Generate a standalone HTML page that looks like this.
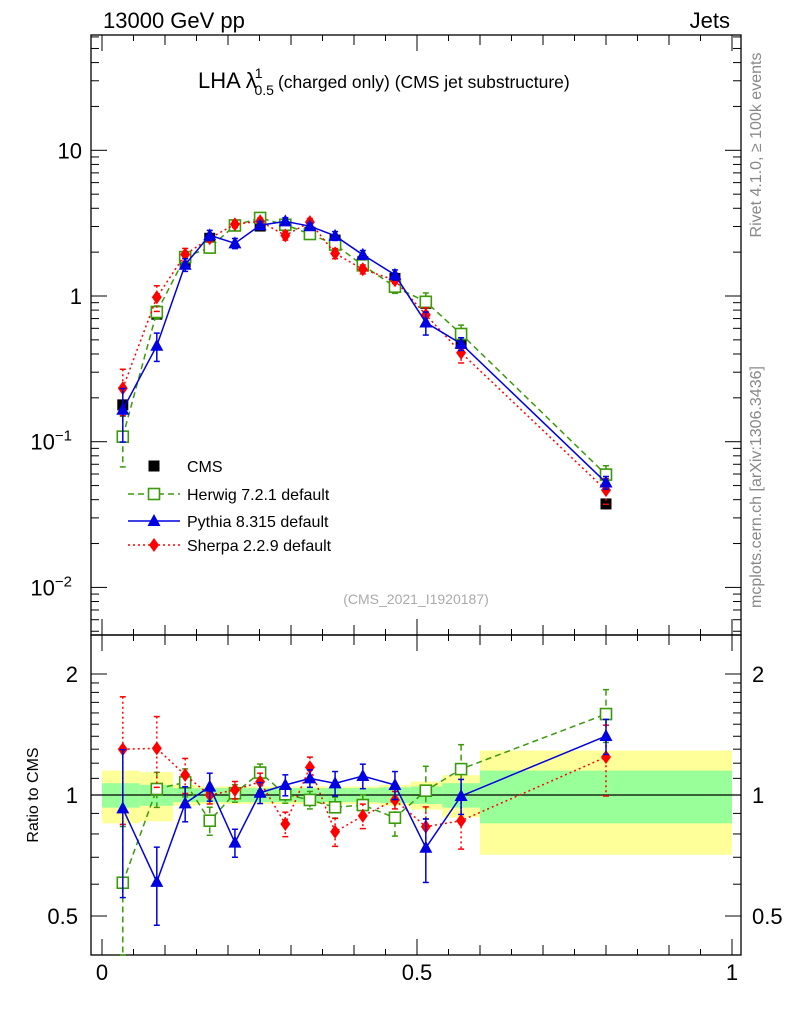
<!DOCTYPE html>
<html><head><meta charset="utf-8"><style>
body{margin:0;background:#fff;}
svg{display:block;font-family:"Liberation Sans",sans-serif;}
</style></head><body>
<svg id="chart" width="786" height="1024" viewBox="0 0 786 1024"></svg>
<script>
const xs = [0.033,0.087,0.132,0.171,0.211,0.251,0.291,0.330,0.370,0.414,0.465,0.514,0.570,0.800];
const binEdges = [0,0.06,0.113,0.15,0.19,0.23,0.27,0.31,0.35,0.39,0.44,0.49,0.54,0.6,1.0];
const cmsVals = [0.179,0.75,1.72,2.49,3.02,3.02,3.07,2.74,2.42,1.72,1.32,0.89,0.473,0.0374];
const bandInner = [0.07,0.06,0.04,0.04,0.04,0.04,0.04,0.04,0.04,0.04,0.045,0.05,0.07,0.15];
const bandOuter = [0.15,0.14,0.06,0.05,0.05,0.05,0.05,0.05,0.05,0.05,0.06,0.08,0.12,0.29];
const herwigRatio = [0.605,1.035,1.075,0.863,1.01,1.137,1.004,0.972,0.932,0.944,0.878,1.025,1.16,1.59];
const pythiaRatio = [0.926,0.608,0.953,1.049,0.761,1.013,1.059,1.10,1.069,1.115,1.059,0.739,0.994,1.402];
const sherpaRatio = [1.30,1.306,1.121,1.0,1.029,1.079,0.847,1.172,0.81,0.887,0.972,0.834,0.863,1.243];
const herwigErr = [0.38,0.1,0.08,0.08,0.05,0.05,0.05,0.05,0.06,0.06,0.1,0.15,0.15,0.15];
const pythiaErr = [0.4,0.22,0.1,0.08,0.08,0.06,0.06,0.05,0.07,0.07,0.08,0.18,0.1,0.1];
const sherpaErr = [0.35,0.2,0.1,0.05,0.05,0.05,0.07,0.06,0.08,0.07,0.05,0.12,0.15,0.2];
const yTickLabels = ["10^-2","10^-1","1","10"];
const ratioTickLabels = ["0.5","1","2"];
const xTickLabels = ["0","0.5","1"];

const S = document.getElementById('chart');
const NS = 'http://www.w3.org/2000/svg';
function mk(tag, attrs, parent){const e=document.createElementNS(NS,tag);for(const k in attrs)e.setAttribute(k,attrs[k]);(parent||S).appendChild(e);return e;}
const X = v => 102 + 630*v;
const Ym = v => 296 - 145.7*Math.log10(v);
const Yr = v => 795 - 402*Math.log10(v);
const L=91,R=741,T=35,M=635,B=955;

const gBand = mk('g',{});


for(let i=0;i<binEdges.length-1;i++){
  const x0=X(binEdges[i]),x1=X(binEdges[i+1]);
  const o=mk('rect',{x:x0,y:Yr(1+bandOuter[i]),width:x1-x0,height:Yr(1-bandOuter[i])-Yr(1+bandOuter[i]),fill:'#ffff99'},gBand);
  
  const n=mk('rect',{x:x0,y:Yr(1+bandInner[i]),width:x1-x0,height:Yr(1-bandInner[i])-Yr(1+bandInner[i]),fill:'#99ff99'},gBand);
  
}
mk('line',{x1:L,x2:R,y1:Yr(1),y2:Yr(1),stroke:'#000','stroke-width':1.2});

const f1=mk('rect',{x:L,y:T,width:R-L,height:M-T,fill:'none',stroke:'#000','stroke-width':1.3});

const f2=mk('rect',{x:L,y:M,width:R-L,height:B-M,fill:'none',stroke:'#000','stroke-width':1.3});


for(let d=-3;d<=1;d++){
  for(let m=1;m<=9;m++){
    const v=m*Math.pow(10,d);const y=Ym(v);
    if(y<T||y>M)continue;
    const len=m===1?16:8;
    mk('line',{x1:L,x2:L+len,y1:y,y2:y,stroke:'#000'});
    mk('line',{x1:R,x2:R-len,y1:y,y2:y,stroke:'#000'});
  }
}
const yl=[[0.01,'10','−2'],[0.1,'10','−1'],[1,'1',''],[10,'10','']];
yl.forEach(([v,b,e])=>{
  const t=mk('text',{x:e?72:82,y:Ym(v)+8,'text-anchor':'end','font-size':22});
  t.textContent=b;
  if(e){const s=mk('tspan',{dy:-9,'font-size':15},t);s.textContent=e;}
  
});
[0.4,0.5,0.6,0.7,0.8,0.9,1,1.1,1.2,1.3,1.4,1.5,1.6,1.7,1.8,1.9,2,2.5].forEach(v=>{
  const y=Yr(v);if(y<M||y>B)return;
  const len=(v===0.5||v===1||v===2)?16:8;
  mk('line',{x1:L,x2:L+len,y1:y,y2:y,stroke:'#000'});
  mk('line',{x1:R,x2:R-len,y1:y,y2:y,stroke:'#000'});
});
ratioTickLabels.forEach(s=>{
  const v=parseFloat(s);
  const a=mk('text',{x:78,y:Yr(v)+8,'text-anchor':'end','font-size':22});a.textContent=s;
  
  const b=mk('text',{x:752,y:Yr(v)+8,'text-anchor':'start','font-size':22});b.textContent=s;
  
});
for(let i=0;i<=20;i++){
  const v=i*0.05,x=X(v);const len=i%10===0?16:(i%2===0?10:6);
  [[T,1],[M,-1],[M,1],[B,-1]].forEach(([y,d])=>mk('line',{x1:x,x2:x,y1:y,y2:y+d*len,stroke:'#000'}));
}
xTickLabels.forEach(s=>{const t=mk('text',{x:X(parseFloat(s)),y:980,'text-anchor':'middle','font-size':22});t.textContent=s;
  });

function marker(type,x,y,c,g){
  let e;
  if(type==='sq') e=mk('rect',{x:x-5.5,y:y-5.5,width:11,height:11,fill:'#000'},g);
  if(type==='osq') e=mk('rect',{x:x-5.5,y:y-5.5,width:11,height:11,fill:'#fff',stroke:c,'stroke-width':1.6},g);
  if(type==='tri') e=mk('polygon',{points:`${x},${y-7} ${x-6.5,x-6.5},${y+5} ${x+6.5},${y+5}`.replace(/^(\S+) (\S+),(\S+),/,'$1 $2,'),fill:c},g);
  if(type==='dia') e=mk('polygon',{points:`${x},${y-7} ${x-5},${y} ${x},${y+7} ${x+5},${y}`,fill:c},g);
  
}
function series(name,ratio,err,c,dash,type){
  const gm=mk('g',{});
  const gr=mk('g',{});
  const vals=cmsVals.map((v,i)=>v*ratio[i]);
  [[gm,vals,Ym],[gr,ratio,Yr]].forEach(([g,vs,Y])=>{
    mk('polyline',{points:xs.map((x,i)=>X(x)+','+Y(vs[i])).join(' '),fill:'none',stroke:c,'stroke-width':1.5,'stroke-dasharray':dash},g);
    xs.forEach((x,i)=>{
      const y1=Math.max(Y(vs[i]*(1+err[i])),Y===Yr?M:T), y2=Math.min(Y(Math.max(vs[i]*(1-err[i]),1e-4)),Y===Yr?B:M);
      mk('line',{x1:X(x),x2:X(x),y1:y1,y2:y2,stroke:c,'stroke-width':1.5,'stroke-dasharray':dash},g);
      mk('line',{x1:X(x)-3,x2:X(x)+3,y1:y1,y2:y1,stroke:c,'stroke-width':1.5},g);
      mk('line',{x1:X(x)-3,x2:X(x)+3,y1:y2,y2:y2,stroke:c,'stroke-width':1.5},g);
      marker(type,X(x),Y(vs[i]),c,g);
    });
  });
}
const gc=mk('g',{});
xs.forEach((x,i)=>marker('sq',X(x),Ym(cmsVals[i]),'#000',gc));
series('herwig',herwigRatio,herwigErr,'#3a9a0a','6,4','osq');
series('sherpa',sherpaRatio,sherpaErr,'#ff0000','2,3','dia');
series('pythia',pythiaRatio,pythiaErr,'#0000e0','','tri');

const lg=mk('g',{});
const ents=[['CMS','#000','','sq',466],['Herwig 7.2.1 default','#3a9a0a','6,4','osq',494],['Pythia 8.315 default','#0000e0','','tri',521],['Sherpa 2.2.9 default','#ff0000','2,3','dia',545]];
ents.forEach(([t,c,d,ty,y])=>{
  const g=mk('g',{},lg);
  if(ty!=='sq')mk('line',{x1:128,x2:180,y1:y,y2:y,stroke:c,'stroke-width':1.5,'stroke-dasharray':d},g);
  marker(ty,154,y,c,g);
  const tx=mk('text',{x:187,y:y+6,'font-size':16},g);tx.textContent=t;
});

function txt(s,a,name){const t=mk('text',a);t.textContent=s;return t;}
txt('13000 GeV pp',{x:103,y:28,'font-size':22},'collision-label');
txt('Jets',{x:730,y:28,'font-size':22,'text-anchor':'end'},'process-label');
const ti=txt('LHA λ',{x:198,y:88,'font-size':22},'plot-title');
const s1=mk('tspan',{dy:-10,dx:-2,'font-size':14},ti);s1.textContent='1';
const s2=mk('tspan',{dy:17,dx:-8,'font-size':14},ti);s2.textContent='0.5';
const s3=mk('tspan',{dy:-7,dx:4,'font-size':17.5},ti);s3.textContent='(charged only) (CMS jet substructure)';
txt('(CMS_2021_I1920187)',{x:416,y:604,'font-size':14,fill:'#aaa','text-anchor':'middle'},'analysis-id');
txt('Ratio to CMS',{x:0,y:0,'font-size':16,'text-anchor':'middle',transform:'translate(38,795) rotate(-90)'},'ratio-y-axis-title');
txt('Rivet 4.1.0, ≥ 100k events',{x:0,y:0,'font-size':16,fill:'#888','text-anchor':'middle',transform:'translate(761,145) rotate(-90)'},'rivet-version');
txt('mcplots.cern.ch [arXiv:1306.3436]',{x:0,y:0,'font-size':16,fill:'#888','text-anchor':'middle',transform:'translate(761,487) rotate(-90)'},'mcplots-credit');
</script>
</body></html>
